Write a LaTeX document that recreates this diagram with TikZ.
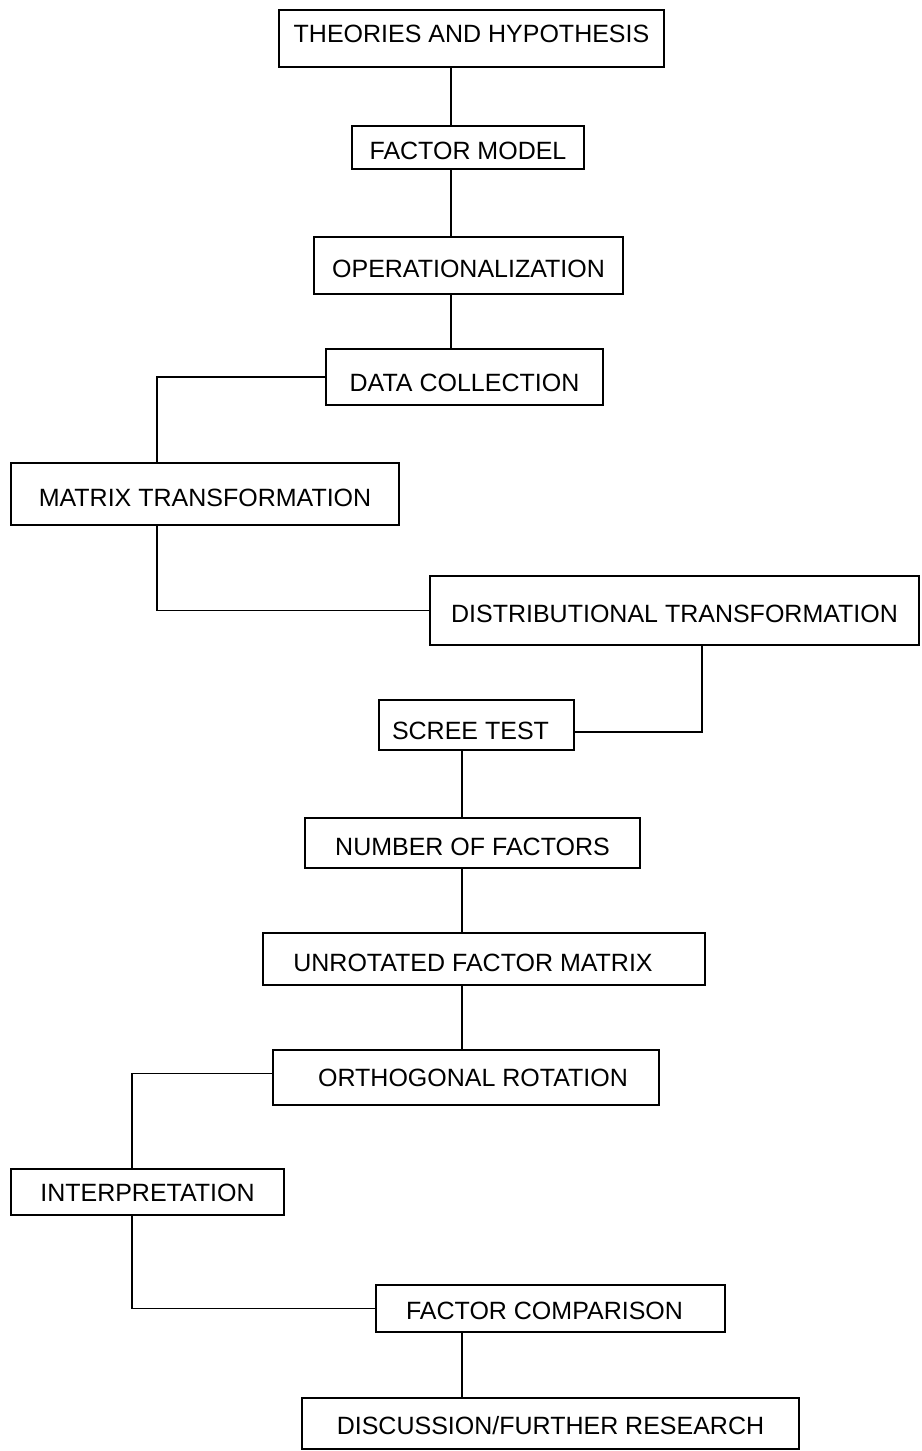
\documentclass[tikz,border=0pt]{standalone}
\usepackage{fontspec}
\setmainfont{Liberation Sans}
\begin{document}
\begin{tikzpicture}[x=1pt,y=-1pt,
  box/.style={draw, line width=2pt, inner sep=0pt, text height=24pt, text depth=0pt,
    font=\fontsize{25}{30}\selectfont},
  link/.style={line width=1.8pt}]
\useasboundingbox (0,0) rectangle (921,1451);
\fill[white] (0,0) rectangle (921,1451);
\node[box, minimum width=385, minimum height=57, text height=12pt, text depth=5pt] (b1) at (471.5,38.5) {THEORIES AND HYPOTHESIS};
\node[box, minimum width=232, minimum height=43] (b2) at (468,147.5) {FACTOR MODEL};
\node[box, minimum width=309, minimum height=57] (b3) at (468.5,265.5) {OPERATIONALIZATION};
\node[box, minimum width=277, minimum height=56, text height=28pt] (b4) at (464.5,377) {DATA COLLECTION};
\node[box, minimum width=388, minimum height=62] (b5) at (205,494) {MATRIX TRANSFORMATION};
\node[box, minimum width=489, minimum height=69] (b6) at (674.5,610.5) {DISTRIBUTIONAL TRANSFORMATION};
\node[box, minimum width=195, minimum height=50, text height=28pt] (b7) at (476.5,725) {SCREE TEST\hspace*{12pt}};
\node[box, minimum width=335, minimum height=50] (b8) at (472.5,843) {NUMBER OF FACTORS};
\node[box, minimum width=442, minimum height=52] (b9) at (484,959) {UNROTATED FACTOR MATRIX\hspace*{22pt}};
\node[box, minimum width=386, minimum height=55, text height=18pt] (b10) at (466,1077.5) {\hspace*{14pt}ORTHOGONAL ROTATION};
\node[box, minimum width=273, minimum height=46, text height=18pt] (b11) at (147.5,1192) {INTERPRETATION};
\node[box, minimum width=349, minimum height=47, text height=21pt] (b12) at (550.5,1308.5) {FACTOR COMPARISON\hspace*{12pt}};
\node[box, minimum width=497, minimum height=51, text height=21pt] (b13) at (550.5,1423.5) {DISCUSSION/FURTHER RESEARCH};
\coordinate (k1) at (451,0);
\coordinate (k2) at (157,0);
\coordinate (k3) at (702,0);
\coordinate (k4) at (462,0);
\coordinate (k5) at (132,0);
\draw[link] (k1 |- b1.south) -- (k1 |- b2.north);
\draw[link] (k1 |- b2.south) -- (k1 |- b3.north);
\draw[link] (k1 |- b3.south) -- (k1 |- b4.north);
\draw[link] (b4.west) -| (k2 |- b5.north);
\draw[link] (k2 |- b5.south) |- (b6.west);
\draw[link] (k3 |- b6.south) |- ([yshift=-7pt]b7.east);
\draw[link] (k4 |- b7.south) -- (k4 |- b8.north);
\draw[link] (k4 |- b8.south) -- (k4 |- b9.north);
\draw[link] (k4 |- b9.south) -- (k4 |- b10.north);
\draw[link] ([yshift=4pt]b10.west) -| (k5 |- b11.north);
\draw[link] (k5 |- b11.south) |- (b12.west);
\draw[link] (k4 |- b12.south) -- (k4 |- b13.north);
\end{tikzpicture}
\end{document}
